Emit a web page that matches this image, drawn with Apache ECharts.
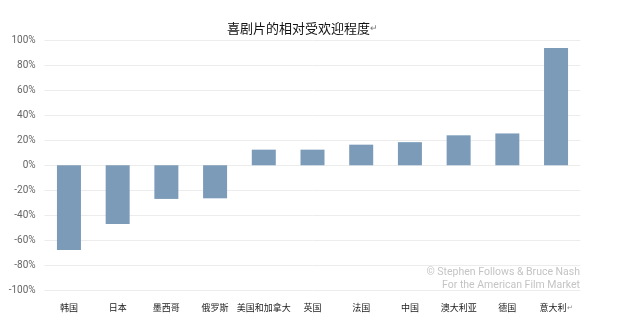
<!DOCTYPE html>
<html>
<head>
<meta charset="utf-8">
<script src="https://cdn.jsdelivr.net/npm/echarts@6/dist/echarts.min.js"></script>
<style>
  html, body { margin: 0; padding: 0; background: #fff; }
  #chart { width: 620px; height: 333px; }
</style>
</head>
<body>
<div id="chart"></div>
<script>
// Relative popularity of comedy films by market (% vs. average)
const countries = ['韩国', '日本', '墨西哥', '俄罗斯', '美国和加拿大', '英国', '法国', '中国', '澳大利亚', '德国', '意大利'];
const popularity = [-68, -47, -27, -26.5, 12.5, 12.5, 16.5, 18.5, 24, 25.5, 94];
const yTicks = { min: -100, max: 100, step: 20 };

const chart = echarts.init(document.getElementById('chart'), null, { renderer: 'canvas' });

const cjk = '"Noto Sans CJK SC", "Noto Sans", sans-serif';
const latin = 'Roboto, "Noto Sans", sans-serif';

chart.setOption({
  backgroundColor: '#ffffff',
  animation: false,
  title: {
    text: '喜剧片的相对受欢迎程度{m|↵}',
    left: 222,
    top: 17,
    textStyle: {
      fontFamily: cjk,
      fontSize: 13,
      fontWeight: 'normal',
      color: '#111',
      rich: { m: { fontSize: 9, color: '#777', fontFamily: latin } }
    }
  },
  grid: { left: 44.6, right: 39.6, top: 40.5, bottom: 43 },
  xAxis: {
    type: 'category',
    data: countries,
    axisLine: { show: false },
    axisTick: { show: false },
    axisLabel: {
      interval: 0,
      margin: 13,
      fontFamily: cjk,
      fontSize: 9,
      color: '#222',
      formatter: (v, i) => i === countries.length - 1 ? v + '{m|↵}' : v,
      rich: { m: { fontSize: 7, color: '#888' } }
    }
  },
  yAxis: {
    type: 'value',
    min: yTicks.min,
    max: yTicks.max,
    interval: yTicks.step,
    axisLine: { show: false },
    axisTick: { show: false },
    splitLine: { lineStyle: { color: '#ececec', width: 1 } },
    axisLabel: {
      margin: 9,
      fontFamily: latin,
      fontSize: 10,
      color: '#666',
      formatter: v => v + '%'
    }
  },
  series: [{
    type: 'bar',
    data: popularity,
    barWidth: 24,
    itemStyle: { color: '#7b9bb9' }
  }],
  graphic: [{
    type: 'text',
    right: 40,
    top: 266,
    style: {
      text: '© Stephen Follows & Bruce Nash\nFor the American Film Market',
      textAlign: 'right',
      fontFamily: latin,
      fontSize: 10.5,
      lineHeight: 13,
      fill: '#c4c4c4'
    }
  }]
});
</script>
</body>
</html>
